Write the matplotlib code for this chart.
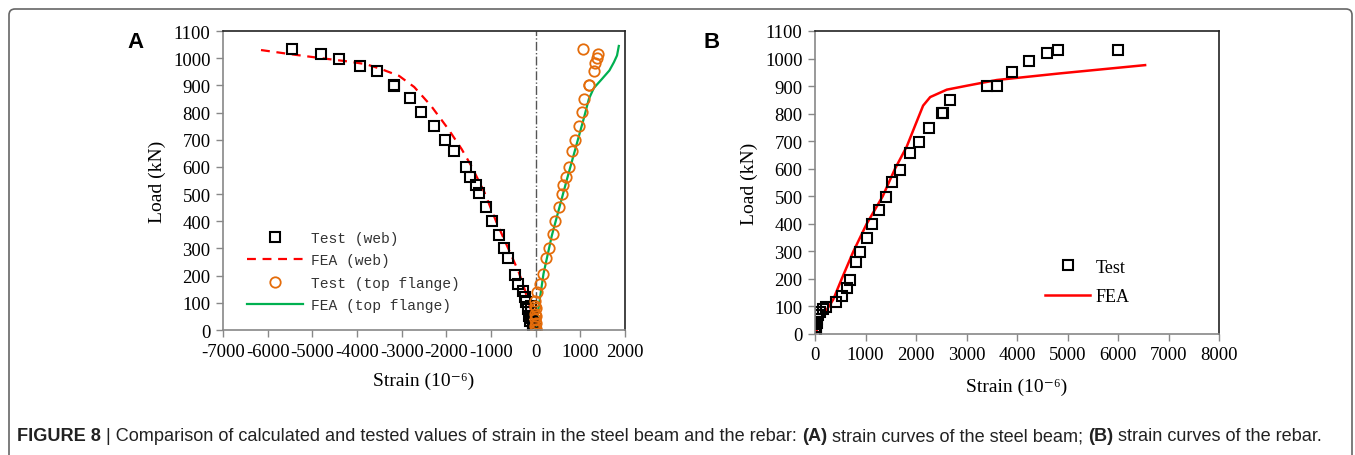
import numpy as np
import matplotlib
matplotlib.use('Agg')
import matplotlib.pyplot as plt
from matplotlib.patches import FancyBboxPatch
from matplotlib.lines import Line2D
from matplotlib.transforms import IdentityTransform

plt.rcParams['font.family'] = ['Liberation Serif', 'DejaVu Serif']
plt.rcParams['axes.unicode_minus'] = False

# panel A: steel beam
web_test_x = [-5460, -4810, -4400, -3930, -3550, -3175, -3170, -2810, -2560, -2270,
              -2020, -1820, -1570, -1480, -1330, -1260, -1120, -970, -830, -720,
              -630, -470, -400, -290, -250, -225, -180, -160, -135, -110, -100,
              -90, -70, -60, -40, -20, 0]
web_test_y = [1034, 1015, 997, 971, 953, 902, 898, 854, 802, 750,
              699, 659, 600, 563, 533, 504, 452, 401, 350, 302,
              265, 202, 169, 143, 121, 103, 77, 52, 33, 90, 65,
              45, 11, 25, 15, 5, 0]
web_fea_x = [-6150, -5500, -4800, -4200, -3800, -3460, -3060, -2720, -2340, -1960,
             -1660, -1440, -1150, -880, -610, -380, -250, -120, 0]
web_fea_y = [1030, 1015, 1000, 988, 978, 960, 935, 894, 824, 740,
             666, 603, 507, 397, 298, 213, 151, 80, 0]
flange_test_x = [1056, 1393, 1370, 1330, 1300, 1190, 1195, 1080, 1035, 973,
                 876, 809, 735, 674, 600, 584, 510, 434, 376, 290,
                 225, 173, 90, 22, -22, -15, 10, -10, 15, -5, 5, -10, 0, 5]
flange_test_y = [1034, 1015, 1000, 982, 953, 901, 903, 850, 802, 752,
                 700, 659, 600, 563, 533, 500, 452, 402, 353, 302,
                 265, 206, 169, 140, 107, 90, 80, 60, 50, 40, 25, 15, 5, 0]
flange_fea_x = [0, 80, 173, 360, 700, 1072, 1190, 1300, 1480, 1650, 1750, 1820, 1860]
flange_fea_y = [0, 100, 206, 347, 555, 776, 850, 890, 923, 955, 985, 1010, 1045]

# panel B: rebar
rebar_test_x = [5993, 4806, 4588, 4244, 3894, 3597, 3400, 2673, 2530, 2520,
                2250, 2060, 1880, 1685, 1525, 1405, 1270, 1130, 1025, 895,
                805, 693, 627, 535, 410, 218, 160, 100, 60, 40, 30, 20, 10, 0]
rebar_test_y = [1032, 1032, 1020, 990, 952, 901, 901, 849, 802, 803,
                748, 698, 657, 595, 552, 498, 450, 399, 348, 297,
                261, 197, 167, 139, 117, 98, 90, 80, 70, 55, 40, 25, 10, 0]
rebar_fea_x = [0, 170, 360, 528, 760, 1023, 1340, 1584, 1815, 1980,
               2140, 2280, 2610, 3000, 3600, 4850, 6535]
rebar_fea_y = [0, 70, 125, 200, 300, 400, 500, 600, 680, 756,
               829, 860, 887, 901, 922, 946, 976]

fig = plt.figure(figsize=(13.55, 4.56), dpi=100)

frame = FancyBboxPatch((9, -20), 1343, 466, boxstyle='round,pad=0,rounding_size=6',
                       transform=IdentityTransform(), fill=False, ec='#666666', lw=1.2)
fig.patches.append(frame)


def style_axes(ax, xpad):
    for s in ['left', 'bottom']:
        ax.spines[s].set_color('#888888')
    for s in ['top', 'right']:
        ax.spines[s].set_color('#222222')
    for s in ax.spines.values():
        s.set_linewidth(1.2)
    ax.tick_params(direction='out', length=5, width=1, color='#888888',
                   labelsize=13.5, pad=4)
    ax.set_ylim(0, 1100)
    ax.set_yticks(np.arange(0, 1101, 100))
    ax.set_ylabel('Load (kN)', fontsize=14, labelpad=5)
    ax.set_xlabel('Strain (10\u207b\u2076)', fontsize=14, labelpad=xpad)


axA = fig.add_axes([0.1646, 0.2741, 0.2967, 0.6557])
axA.axvline(0, color='#555555', ls='-.', lw=1)
axA.plot(web_fea_x, web_fea_y, color='#ff0000', ls='--', lw=1.6, dashes=(4, 3))
axA.plot(flange_fea_x, flange_fea_y, color='#00b050', lw=1.6)
axA.plot(web_test_x, web_test_y, ls='none', marker='s', ms=7, mfc='none',
         mec='black', mew=1.5)
axA.plot(flange_test_x, flange_test_y, ls='none', marker='o', ms=7.5, mfc='none',
         mec='#e46c0a', mew=1.3)
axA.set_xlim(-7000, 2000)
axA.set_xticks(np.arange(-7000, 2001, 1000))
style_axes(axA, 9)

hA = [Line2D([], [], ls='none', marker='s', ms=7, mfc='none', mec='black', mew=1.5),
      Line2D([], [], color='#ff0000', ls='--', lw=1.6, dashes=(4, 3)),
      Line2D([], [], ls='none', marker='o', ms=7.5, mfc='none', mec='#e46c0a', mew=1.3),
      Line2D([], [], color='#00b050', lw=1.6)]
legA = axA.legend(hA, ['Test (web)', 'FEA (web)', 'Test (top flange)', 'FEA (top flange)'],
                  loc='lower left', bbox_to_anchor=(0.06, 0.06), frameon=False,
                  borderpad=0, borderaxespad=0, handlelength=3.8, handletextpad=0.6,
                  labelspacing=0.58, prop={'family': 'Liberation Mono', 'size': 10.5})
for t in legA.get_texts():
    t.set_color('#333333')

axB = fig.add_axes([0.6015, 0.2654, 0.2982, 0.6645])
axB.plot(rebar_fea_x, rebar_fea_y, color='#ff0000', lw=1.8)
axB.plot(rebar_test_x, rebar_test_y, ls='none', marker='s', ms=7, mfc='none',
         mec='black', mew=1.5)
axB.set_xlim(0, 8000)
axB.set_xticks(np.arange(0, 8001, 1000))
style_axes(axB, 10)

hB = [Line2D([], [], ls='none', marker='s', ms=7, mfc='none', mec='black', mew=1.5),
      Line2D([], [], color='#ff0000', lw=1.8)]
axB.legend(hB, ['Test', 'FEA'], loc='lower left', bbox_to_anchor=(0.57, 0.096),
           frameon=False, borderpad=0, borderaxespad=0, handlelength=2.5,
           handletextpad=0.3, labelspacing=0.67, prop={'size': 13})

fig.text(136 / 1355, 1 - 42 / 456, 'A', fontsize=16, fontweight='bold',
         family='Liberation Sans', ha='center', va='center')
fig.text(712 / 1355, 1 - 42 / 456, 'B', fontsize=16, fontweight='bold',
         family='Liberation Sans', ha='center', va='center')

# caption, bold lead then regular text
cap_parts = [('FIGURE 8', 'bold'), (' | Comparison of calculated and tested values of strain in the steel beam and the rebar: ', 'normal'),
             ('(A)', 'bold'), (' strain curves of the steel beam; ', 'normal'),
             ('(B)', 'bold'), (' strain curves of the rebar.', 'normal')]
renderer = fig.canvas.get_renderer()
x = 17
for txt, w in cap_parts:
    t = fig.text(x / 1355, 1 - 437 / 456, txt, fontsize=13.1, fontweight=w,
                 family='Liberation Sans', va='center', ha='left', color='#222222')
    x += t.get_window_extent(renderer).width

fig.savefig('out.png', dpi=100)
